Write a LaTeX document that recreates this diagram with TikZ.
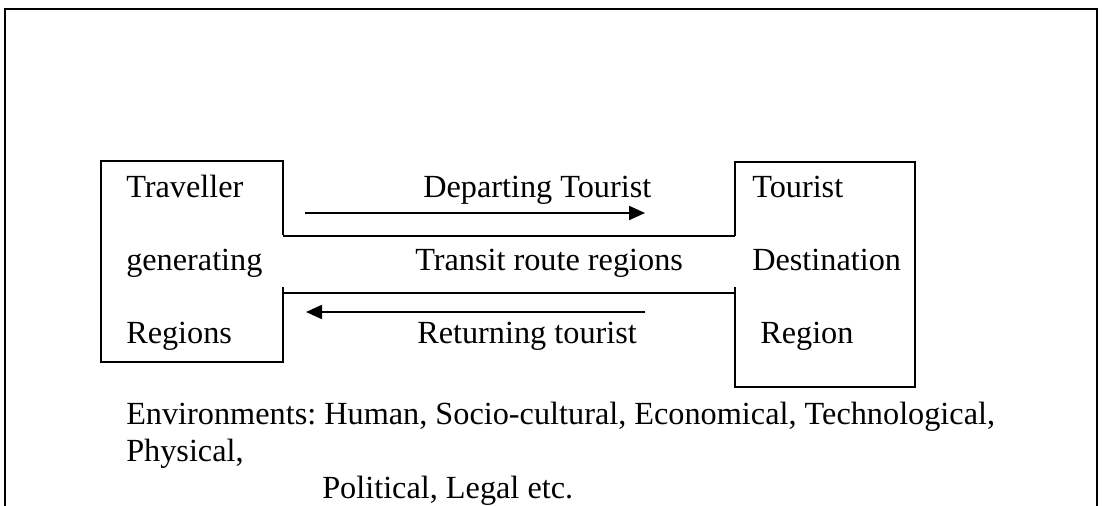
\documentclass[tikz,border=0pt]{standalone}
\usepackage{fontspec}
\setmainfont{Liberation Serif}
\frenchspacing
\usetikzlibrary{positioning, arrows.meta}

\tikzset{
  txt/.style={inner sep=0pt, anchor=base west, font=\fontsize{24.2}{29}\selectfont},
  flow/.style={line width=1.6pt, -{Triangle[length=12pt,width=10.5pt]}},
  wall/.style={line width=1.2pt}
}

\begin{document}
\begin{tikzpicture}[x=0.75pt, y=-0.75pt, node distance=55pt]
		\useasboundingbox (0,0) rectangle (1102,506);
		% frame
		\draw[line width=1.1pt] (5,506) -- (5,9) -- (1097,9) -- (1097,506);
		
		% regions
		\draw[wall] (283,235) -- (283,161) -- (101,161) -- (101,362) -- (283,362) -- (283,287);
		\draw[wall] (735,236) -- (735,162) -- (915,162) -- (915,387) -- (735,387) -- (735,287);
		\draw[wall] (283,236) -- (735,236);
		\draw[wall] (283,293) -- (735,293);
		
		\node[txt] (trav) at (126,197) {Traveller};
		\node[txt, below=of trav.base west, anchor=base west] (gen) {generating};
		\node[txt, below=of gen.base west, anchor=base west] (regs) {Regions};
		
		\node[txt] (dep) at (423,197) {Departing Tourist};
		\node[txt, below=of dep.base west, anchor=base west, xshift=-6pt] (transit) {Transit route regions};
		\node[txt, below=of transit.base west, anchor=base west, xshift=1.5pt] (ret) {Returning tourist};
		
		\node[txt] (tour) at (752,197) {Tourist};
		\node[txt, below=of tour.base west, anchor=base west] (dest) {Destination};
		\node[txt, below=of dest.base west, anchor=base west, xshift=6pt] (reg) {Region};
		
		\node[txt] (env) at (126,424) {Environments: Human, Socio-cultural, Economical, Technological,};
		\node[txt, below=28pt of env.base west, anchor=base west] (phys) {Physical,};
		\node[txt] (pol) at (322,498) {Political, Legal etc.};
		
		% tourist flows
		\coordinate (dep a) at (305,213);
		\coordinate (dep b) at (645,213);
		\coordinate (ret a) at (645,312);
		\coordinate (ret b) at (306,312);
		\draw[flow] (dep a) -- (dep b);
		\draw[flow] (ret a) -- (ret b);
		
	\end{tikzpicture}
\end{document}
